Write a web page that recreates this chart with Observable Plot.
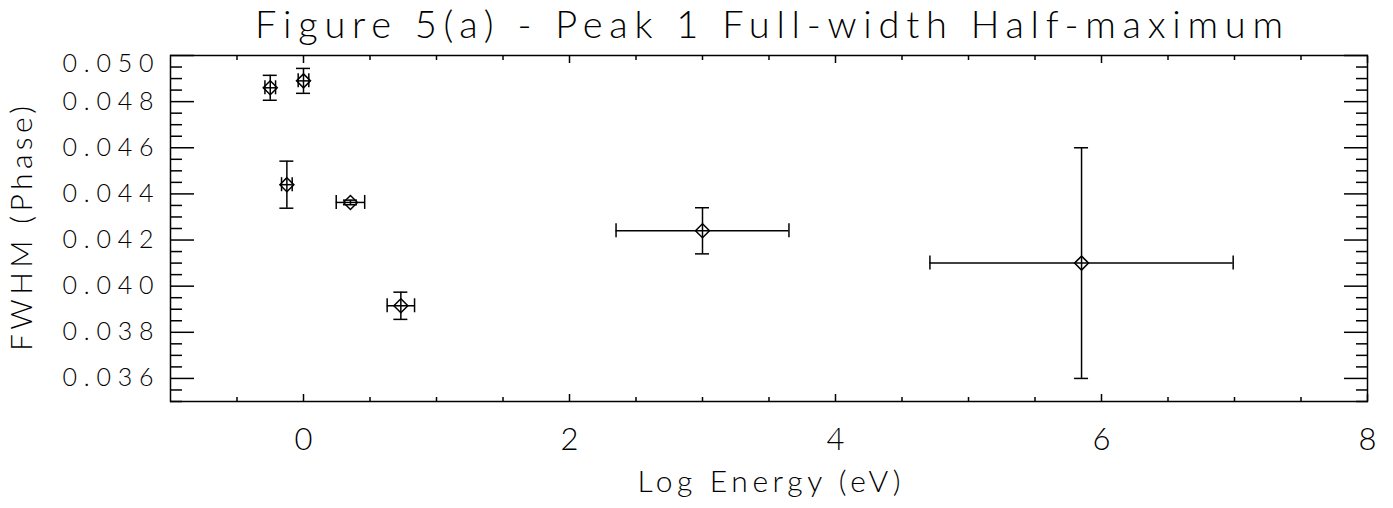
<!DOCTYPE html>
<html><head><meta charset="utf-8">
<script src="https://cdn.jsdelivr.net/npm/d3@7"></script>
<script src="https://cdn.jsdelivr.net/npm/@observablehq/plot@0.6"></script>
<style>
html,body{margin:0;padding:0;background:#fff;}
svg text{font-family:"Lato",sans-serif;font-weight:300;}
</style></head><body><div id="chart"></div>
<script>
const titleText = "Figure 5(a) - Peak 1 Full-width Half-maximum";
const xLabelText = "Log Energy (eV)";
const yLabelText = "FWHM (Phase)";

const logEnergy    = [-0.25, 0.0, -0.125, 0.353, 0.732, 3.0, 5.85];
const fwhm         = [0.0486, 0.0489, 0.0444, 0.04363, 0.03915, 0.0424, 0.0410];
const logEnergyErr = [0.04, 0.04, 0.04, 0.107, 0.103, 0.65, 1.14];
const fwhmErr      = [0.00054, 0.00054, 0.00102, 0.0001, 0.00059, 0.001, 0.005];

const xMajorTicks = [0, 2, 4, 6, 8];
const xMinorTicks = [-0.5, 0.5, 1, 1.5, 2.5, 3, 3.5, 4.5, 5, 5.5, 6.5, 7, 7.5];
const yMajorTicks = [0.036, 0.038, 0.040, 0.042, 0.044, 0.046, 0.048, 0.050];
const yMinorTicks = d3.range(70, 101).map(v => v / 2000).filter(v => Math.round(v * 2000) % 4 !== 0);
const yLabelTicks = [0.036, 0.038, 0.040, 0.042, 0.044, 0.046, 0.048];
const yTopLabelTick = [0.050];

const rows = logEnergy.map((x, i) => ({x, y: fwhm[i], xe: logEnergyErr[i], ye: fwhmErr[i]}));
const fmt = d3.format(".3f");
const ink = "#000";

const chart = Plot.plot({
  width: 1393, height: 508,
  marginLeft: 170, marginRight: 26, marginTop: 55, marginBottom: 107,
  style: {background: "#fff", color: ink, fontFamily: "Lato, sans-serif"},
  x: {domain: [-1, 8], axis: null},
  y: {domain: [0.035, 0.050], axis: null},
  marks: [
    // minor/major ticks pointing inward
    Plot.axisX(xMinorTicks, {anchor: "bottom", tickSize: -4, tickFormat: () => "", label: null, strokeWidth: 1.5}),
    Plot.axisX(xMajorTicks, {anchor: "bottom", tickSize: -7, tickFormat: () => "", label: null, strokeWidth: 1.5}),
    Plot.axisX(xMinorTicks, {anchor: "top", tickSize: -4, tickFormat: () => "", label: null, strokeWidth: 1.5}),
    Plot.axisX(xMajorTicks, {anchor: "top", tickSize: -7, tickFormat: () => "", label: null, strokeWidth: 1.5}),
    Plot.axisY(yMinorTicks, {anchor: "left", tickSize: -12, tickFormat: () => "", label: null, strokeWidth: 1.5}),
    Plot.axisY(yMajorTicks, {anchor: "left", tickSize: -24, tickFormat: () => "", label: null, strokeWidth: 1.5}),
    Plot.axisY(yMinorTicks, {anchor: "right", tickSize: -12, tickFormat: () => "", label: null, strokeWidth: 1.5}),
    Plot.axisY(yMajorTicks, {anchor: "right", tickSize: -24, tickFormat: () => "", label: null, strokeWidth: 1.5}),
    // tick labels
    Plot.axisX(xMajorTicks, {anchor: "bottom", tickSize: 0, tickPadding: 26, fontSize: 31, label: null, tickFormat: d => String(d)}),
    Plot.axisY(yLabelTicks, {anchor: "left", tickSize: 0, tickPadding: 17, fontSize: 25, label: null, tickFormat: fmt}),
    Plot.axisY(yTopLabelTick, {anchor: "left", tickSize: 0, tickPadding: 17, fontSize: 25, label: null, tickFormat: fmt, dy: 8}),
    Plot.frame({stroke: ink, strokeWidth: 1.5}),
    // error bars
    Plot.ruleY(rows, {y: "y", x1: d => d.x - d.xe, x2: d => d.x + d.xe, stroke: ink, strokeWidth: 1.5}),
    Plot.ruleX(rows, {x: "x", y1: d => d.y - d.ye, y2: d => d.y + d.ye, stroke: ink, strokeWidth: 1.5}),
    Plot.ruleX(rows, {x: d => d.x - d.xe, y1: "y", y2: "y", insetTop: -7, insetBottom: -7, stroke: ink, strokeWidth: 1.5}),
    Plot.ruleX(rows, {x: d => d.x + d.xe, y1: "y", y2: "y", insetTop: -7, insetBottom: -7, stroke: ink, strokeWidth: 1.5}),
    Plot.ruleY(rows, {y: d => d.y - d.ye, x1: "x", x2: "x", insetLeft: -7, insetRight: -7, stroke: ink, strokeWidth: 1.5}),
    Plot.ruleY(rows, {y: d => d.y + d.ye, x1: "x", x2: "x", insetLeft: -7, insetRight: -7, stroke: ink, strokeWidth: 1.5}),
    Plot.dot(rows, {x: "x", y: "y", symbol: "diamond2", r: 6.3, stroke: ink, fill: "none", strokeWidth: 1.5}),
    // titles
    Plot.text([titleText], {frameAnchor: "top", lineAnchor: "middle", textAnchor: "middle", dy: -30, fontSize: 38, fill: ink}),
    Plot.text([xLabelText], {frameAnchor: "bottom", lineAnchor: "middle", textAnchor: "middle", dy: 81, fontSize: 30, fill: ink}),
    Plot.text([yLabelText], {frameAnchor: "left", lineAnchor: "middle", textAnchor: "middle", dx: -148, rotate: -90, fontSize: 30, fill: ink})
  ]
});
document.getElementById("chart").appendChild(chart);

const svg = d3.select(chart);
const widths = new Map([[titleText, 1028], [xLabelText, 263], [yLabelText, 245]]);
yMajorTicks.forEach(v => widths.set(fmt(v), 91));
svg.selectAll("text").each(function() {
  const t = this.textContent;
  if (widths.has(t)) {
    d3.select(this).attr("textLength", widths.get(t)).attr("lengthAdjust", "spacing");
  }
});
</script></body></html>
